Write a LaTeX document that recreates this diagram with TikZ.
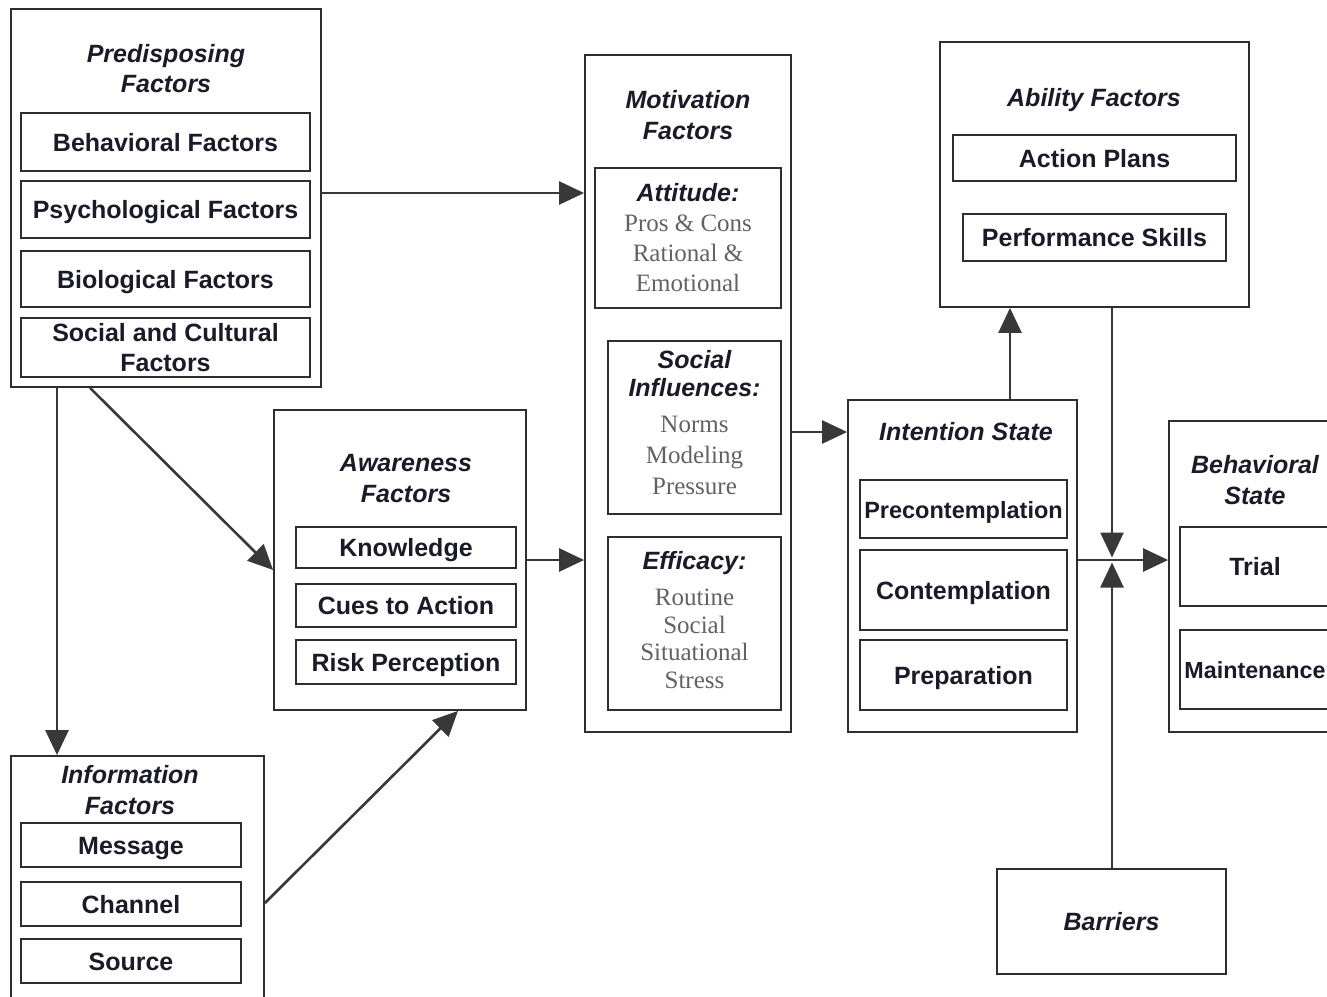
\documentclass[tikz,border=0pt]{standalone}
\usepackage{fontspec}
\setmainfont{Liberation Sans}
\newfontfamily\serifgray{Liberation Serif}
\usetikzlibrary{arrows.meta,calc}

\definecolor{ink}{HTML}{1A1A28}
\definecolor{frame}{HTML}{2E2E2E}
\definecolor{conn}{HTML}{383838}
\definecolor{soft}{HTML}{626262}

\newcommand\hd[1]{{\rmfamily\bfseries\itshape\color{ink}#1}}
\newcommand\gr[1]{{\serifgray\mdseries\upshape\color{soft}#1}}

\tikzset{
  box/.style={draw=frame, line width=1.8pt, inner sep=0pt, text=ink,
    font=\fontsize{25}{30}\selectfont\bfseries, align=center},
  one/.style={box, text height=22pt, text depth=4pt},
  ttl/.style={text=ink, font=\fontsize{25}{30.5}\selectfont\bfseries\itshape,
    align=center, inner sep=0pt},
  inner/.style={text=ink, font=\fontsize{25}{30}\selectfont, align=center, inner sep=0pt},
  arr/.style={draw=conn, line width=2.6pt, -{Triangle[length=25pt,width=23pt]}},
  arrj/.style={arr, shorten >=2.5pt}
}

\begin{document}
\begin{tikzpicture}[x=1pt,y=-1pt]
\useasboundingbox (0,0) rectangle (1327,996);
\clip (0,0) rectangle (1327,996);

% Predisposing
\node[box, minimum width=310pt, minimum height=378pt] (pre) at (166,198) {};
\node[ttl] (preT) at (166,68.5) {Predisposing\\Factors};
\node[one, minimum width=289pt, minimum height=58pt] (behf) at (165.5,142) {Behavioral Factors};
\node[one, minimum width=289pt, minimum height=57pt] (psyf) at (165.5,209.5) {Psychological Factors};
\node[one, minimum width=289pt, minimum height=56pt] (biof) at (165.5,279) {Biological Factors};
\node[box, minimum width=289pt, minimum height=59pt] (socf) at (165.5,347.5) {Social and Cultural\\Factors};

% Motivation
\node[box, minimum width=206pt, minimum height=677pt] (mot) at (688,393.5) {};
\node[ttl] (motT) at (688,115) {Motivation\\Factors};
\node[box, minimum width=186pt, minimum height=140pt] (att) at (688,238) {};
\node[inner] (attT) at (688,237.5)
  {\hd{Attitude:}\\ \gr{Pros \& Cons}\\ \gr{Rational \&}\\ \gr{Emotional}};
\node[box, minimum width=173pt, minimum height=173pt] (soci) at (694.5,427.5) {};
\node[inner] (sociT) at (694.5,423)
  {\hd{Social}\\[-2pt] \hd{Influences:}\\[6pt] \gr{Norms}\\[1pt] \gr{Modeling}\\[1pt] \gr{Pressure}};
\node[box, minimum width=173pt, minimum height=173pt] (effi) at (694.5,623.5) {};
\node[inner] (effiT) at (694.5,620.5)
  {\hd{Efficacy:}\\[6pt] \gr{Routine}\\[-2pt] \gr{Social}\\[-3pt] \gr{Situational}\\[-2pt] \gr{Stress}};

% Awareness
\node[box, minimum width=252pt, minimum height=300pt] (aw) at (400,560) {};
\node[ttl] (awT) at (406,478.5) {Awareness\\Factors};
\node[one, minimum width=220pt, minimum height=41pt] (know) at (406,547.5) {Knowledge};
\node[one, minimum width=220pt, minimum height=43pt] (cues) at (406,605.5) {Cues to Action};
\node[one, minimum width=220pt, minimum height=44pt] (risk) at (406,662) {Risk Perception};

% Information
\node[box, minimum width=253pt, minimum height=264pt] (info) at (137.5,888) {};
\node[ttl] (infoT) at (130,790) {Information\\Factors};
\node[one, minimum width=220pt, minimum height=44pt] (msg) at (131,845) {Message};
\node[one, minimum width=220pt, minimum height=44pt] (chan) at (131,904) {Channel};
\node[one, minimum width=220pt, minimum height=44pt] (src) at (131,961) {Source};

% Intention
\node[box, minimum width=229pt, minimum height=332pt] (int) at (962.5,566) {};
\node[ttl] (intT) at (966,432) {Intention State};
\node[one, minimum width=207pt, minimum height=58pt, font=\fontsize{23.5}{28}\selectfont\bfseries] (prec) at (963.5,509) {Precontemplation};
\node[one, minimum width=207pt, minimum height=80pt] (cont) at (963.5,590) {Contemplation};
\node[one, minimum width=207pt, minimum height=70pt] (prep) at (963.5,675) {Preparation};

% Ability
\node[box, minimum width=309pt, minimum height=265pt] (abil) at (1094.5,174.5) {};
\node[ttl] (abT) at (1094,100) {Ability Factors};
\node[one, minimum width=283pt, minimum height=46pt] (act) at (1094.5,158) {Action Plans};
\node[one, minimum width=263pt, minimum height=47pt] (perf) at (1094.5,237.5) {Performance Skills};

% Behavioral state
\node[box, minimum width=176pt, minimum height=311pt] (bst) at (1257,576.5) {};
\node[ttl] (bstT) at (1255,480) {Behavioral\\State};
\node[one, minimum width=150pt, minimum height=79pt] (trial) at (1255,566.5) {Trial};
\node[one, minimum width=150pt, minimum height=79pt, font=\fontsize{23.3}{28}\selectfont\bfseries] (maint) at (1255,669.5) {Maintenance};

% Barriers
\node[one, minimum width=229pt, minimum height=105pt, font=\fontsize{25}{30}\selectfont\bfseries\itshape] (barr) at (1111.5,921.5) {Barriers};

\coordinate (j) at (1112,560);

% Connectors
\draw[arr] ($(pre.east)+(0,-5)$) coordinate (a1) -- (a1 -| mot.west);
\draw[arr] ($(pre.south)+(-109,0)$) coordinate (a2) -- (a2 |- info.north);
\draw[arr] ($(pre.south)+(-76,0)$) -- ($(aw.west)+(0,10)$);
\draw[arr] ($(info.east)+(0,15)$) -- ($(aw.south)+(58,0)$);
\draw[arr] (aw.east) -- (aw.east -| mot.west);
\draw[arr] (intT -| mot.east) -- (intT -| int.west);
\draw[arr] ($(int.north)+(47.5,0)$) coordinate (a7) -- (a7 |- abil.south);
\draw[arrj] (j |- abil.south) -- (j);
\draw[arrj] (j |- barr.north) -- (j);
\draw[arr] (j -| int.east) -- (j -| bst.west);
\end{tikzpicture}
\end{document}
